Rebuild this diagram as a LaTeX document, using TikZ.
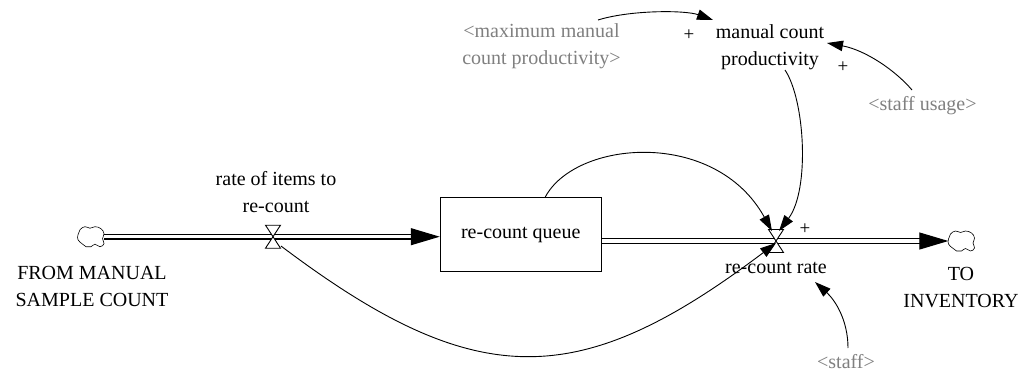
\documentclass[tikz,border=0pt]{standalone}
\usepackage{fontspec}
\setmainfont{Liberation Serif}
\usetikzlibrary{arrows.meta}
\definecolor{shadowgrey}{RGB}{128,128,128}
\begin{document}
\begin{tikzpicture}[x=1pt,y=-1pt,
  lbl/.style={font=\fontsize{20}{27}\selectfont, align=center, inner sep=0pt, anchor=base},
  ghost/.style={lbl, text=shadowgrey},
  plus/.style={font=\fontsize{19}{19}\selectfont, inner sep=0pt},
  stockbox/.style={draw, line width=1pt, minimum width=161pt, minimum height=74pt, inner sep=0pt, fill=white, font=\fontsize{20}{27}\selectfont},
  sink/.style={draw=none, minimum width=26pt, minimum height=21pt, inner sep=0pt},
  cloudline/.style={draw, fill=white, line width=0.6pt},
  pipe/.style={double, double distance=3.4pt, line width=1.1pt, -{Triangle[length=29pt,width=17pt]}},
  link/.style={line width=0.9pt, -{Triangle[length=16pt,width=10.5pt]}},
  valveshape/.style={draw, fill=white, line width=0.9pt, line join=miter},
  valvepic/.pic={
    \draw[valveshape] (-7.5,-11.5) -- (7.5,-11.5) -- (0,0) -- cycle;
    \draw[valveshape] (-7.5,11.5) -- (7.5,11.5) -- (0,0) -- cycle;
  },
  cloudpic/.pic={
    \draw[cloudline] plot[smooth cycle, tension=0.75] coordinates {
      (-13,-2) (-11,-7) (-6,-10) (-1,-8.5) (4,-10) (10,-8) (13,-3)
      (11.5,2) (13,7) (9,10) (4,7.5) (0,10) (-5,10) (-9,7) (-13,3)};
  }
]
\useasboundingbox[fill=white] (0,0) rectangle (1033,383);

% stocks, clouds
\node[sink] (srcL) at (91,236.7) {};
\pic at (srcL) {cloudpic};
\node[stockbox] (queue) at (520.75,234.75) {re-count queue};
\node[sink] (sinkR) at (961.5,241) {};
\pic at (sinkR) {cloudpic};
\coordinate (v1) at (273,236.7);
\coordinate (v2) at (776,241);

% pipes
\draw[pipe] (srcL.east) -- (queue.west |- srcL.east);
\draw[pipe] (queue.east |- v2) -- (sinkR.west |- v2);
\pic at (v1) {valvepic};
\pic at (v2) {valvepic};

% labels
\node[lbl] (rateIn) at (276,212) {rate of items to\\re-count};
\node[lbl] (fromL) at (92,306) {FROM MANUAL\\SAMPLE COUNT};
\node[lbl] (rateOut) at (776,273) {re-count rate};
\node[lbl] (toR) at (961,307) {TO\\INVENTORY};
\node[lbl] (mcp) at (770,65) {manual count\\productivity};
\node[ghost] (maxmcp) at (541.5,64) {<maximum manual\\count productivity>};
\node[ghost] (staffuse) at (922.5,110) {<staff usage>};
\node[ghost] (staff) at (846,368) {<staff>};

\node[plus] (p1) at (689,35) {+};
\node[plus] (p2) at (843,67) {+};
\node[plus] (p3) at (805,229) {+};

% link end points
\coordinate (qtop) at (545,197.5);
\coordinate (v2tl) at (772,231);
\coordinate (v2tr) at (779,231);
\coordinate (v2bl) at (776,243);
\coordinate (v1br) at (281,246);
\coordinate (mcpout) at (785,70);
\coordinate (mcpin1) at (713,20);
\coordinate (mcpin2) at (827,43);
\coordinate (maxout) at (598,20);
\coordinate (suout) at (912,90);
\coordinate (stout) at (848,348);
\coordinate (rateIn2) at (815,282);

% links
\draw[link] (qtop) .. controls (575,140) and (715,128) .. (v2tl);
\draw[link] (mcpout) .. controls (805,100) and (810,190) .. (v2tr);
\draw[link] (v1br) .. controls (477,394) and (580,391) .. (v2bl);
\draw[link] (stout) .. controls (848,320) and (835,300) .. (rateIn2);
\draw[link] (suout) .. controls (895,70) and (865,50) .. (mcpin2);
\draw[link] (maxout) .. controls (630,10) and (685,10) .. (mcpin1);
\end{tikzpicture}
\end{document}
